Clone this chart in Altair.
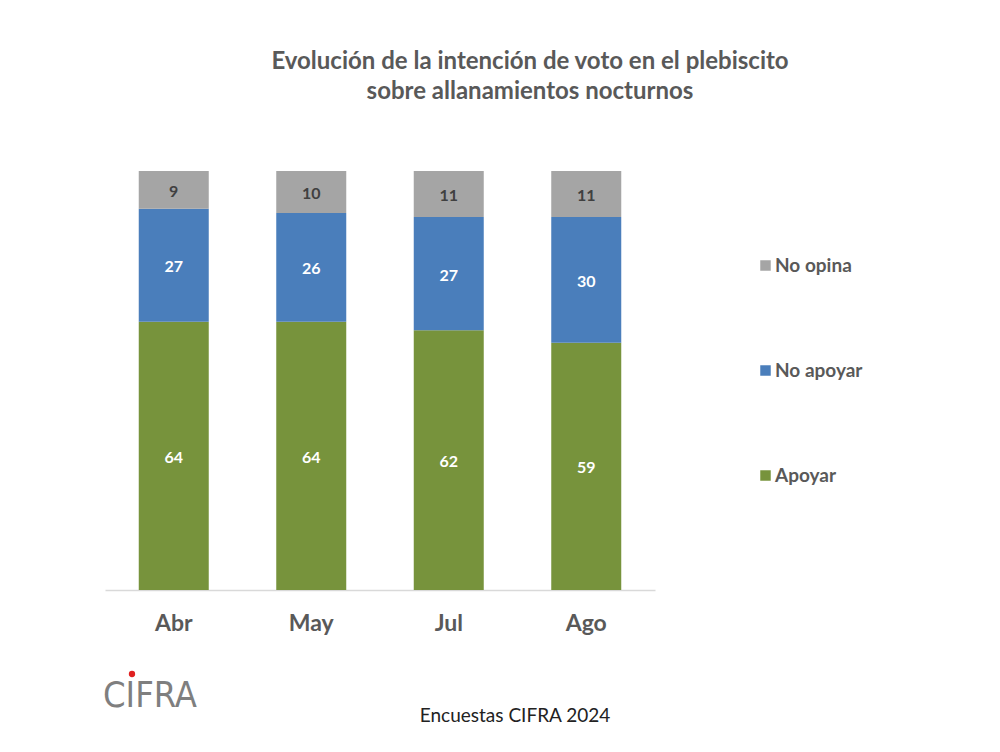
import altair as alt
import pandas as pd

months = ["Abr", "May", "Jul", "Ago"]
apoyar = [64, 64, 62, 59]
no_apoyar = [27, 26, 27, 30]
no_opina = [9, 10, 11, 11]

series = ["Apoyar", "No apoyar", "No opina"]
colors = ["#77933C", "#4A7EBB", "#A5A5A5"]
label_colors = ["#FFFFFF", "#FFFFFF", "#404040"]

rows = []
for i, m in enumerate(months):
    for k, (name, vals) in enumerate(zip(series, [apoyar, no_apoyar, no_opina])):
        rows.append({"mes": m, "grupo": name, "valor": vals[i], "orden": k,
                     "tcolor": label_colors[k]})
df = pd.DataFrame(rows)

FONT = "Lato"

x_enc = alt.X("mes:N", sort=months, title=None,
              scale=alt.Scale(paddingInner=0.49, paddingOuter=0.245),
              axis=alt.Axis(labelAngle=0, ticks=False, domainColor="#D9D9D9",
                            domainWidth=1.5, labelFontSize=23, labelFont=FONT,
                            labelFontWeight="bold", labelColor="#595959",
                            labelPadding=22))

bars = alt.Chart(df).mark_bar(size=70).encode(
    x=x_enc,
    y=alt.Y("valor:Q", stack="zero", axis=None, scale=alt.Scale(domain=[0, 100])),
    color=alt.Color("grupo:N",
                    scale=alt.Scale(domain=series[::-1], range=colors[::-1]),
                    legend=alt.Legend(title=None, orient="none", legendX=651, legendY=85,
                                      symbolType="square", symbolSize=110,
                                      symbolStrokeWidth=0, labelFontSize=19,
                                      labelFont=FONT, labelFontWeight="bold",
                                      labelColor="#595959", rowPadding=85,
                                      labelOffset=0)),
    order=alt.Order("orden:Q"),
)

# value labels centred in each segment
labels = alt.Chart(df).transform_stack(
    stack="valor", groupby=["mes"], as_=["v0", "v1"],
    sort=[alt.SortField("orden", order="ascending")]
).transform_calculate(
    mid="(datum.v0 + datum.v1) / 2"
).mark_text(fontSize=16, font=FONT, fontWeight="bold", dy=2).encode(
    x=alt.X("mes:N", sort=months),
    y=alt.Y("mid:Q"),
    text=alt.Text("valor:Q"),
    color=alt.Color("tcolor:N", scale=None),
)

footer = alt.Chart(pd.DataFrame({"t": ["Encuestas CIFRA 2024"]})).mark_text(
    fontSize=19, font=FONT, color="#222222", align="center"
).encode(x=alt.value(410), y=alt.value(545), text="t:N")

logo = alt.Chart(pd.DataFrame({"t": ["CIFRA"]})).mark_text(
    fontSize=36, font="DejaVu Sans Condensed", color="#7F7F7F", align="left",
    fontWeight="normal"
).encode(x=alt.value(-2), y=alt.value(525), text="t:N")

dot = alt.Chart(pd.DataFrame({"d": [1]})).mark_circle(
    color="#E02020", size=40, opacity=1
).encode(x=alt.value(27), y=alt.value(503))

chart = alt.layer(bars, labels, footer, logo, dot).properties(
    width=550,
    height=419,
    padding={"left": 97, "top": 163, "right": 337, "bottom": 154},
    autosize=alt.AutoSizeParams(type="none"),
    view=alt.ViewBackground(stroke="transparent", strokeWidth=0),
    title=alt.TitleParams(
        ["Evolución de la intención de voto en el plebiscito",
         "sobre allanamientos nocturnos"],
        fontSize=24, font=FONT, fontWeight="bold", color="#595959",
        anchor="middle", dx=150, offset=67, lineHeight=30,
    ),
).configure_view(stroke="transparent", strokeWidth=0).configure(background="white")

chart.save("out.html", embed_options={"renderer": "svg", "actions": False})
